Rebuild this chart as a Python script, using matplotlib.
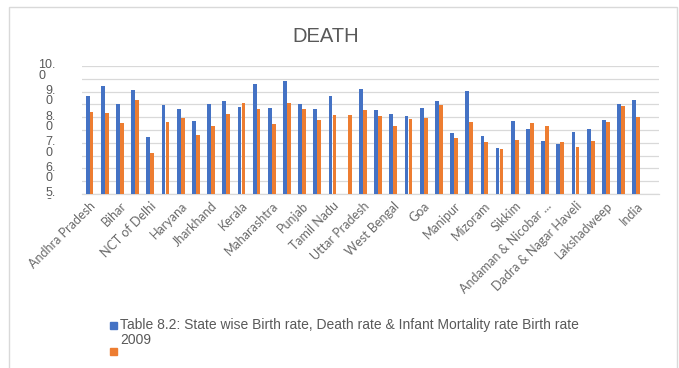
import matplotlib
matplotlib.use("Agg")
import matplotlib.pyplot as plt
import matplotlib.transforms as mtransforms
from matplotlib.patches import Rectangle
import numpy as np

# Categories (states / UTs); only every other one gets a visible tick label
categories = [
    "Andhra Pradesh", "Assam", "Bihar", "Chhattisgarh", "NCT of Delhi",
    "Gujarat", "Haryana", "Jammu & Kashmir", "Jharkhand", "Karnataka",
    "Kerala", "Madhya Pradesh", "Maharashtra", "Odisha", "Punjab",
    "Rajasthan", "Tamil Nadu", "Uttarakhand", "Uttar Pradesh",
    "Himachal Pradesh", "West Bengal", "Arunachal Pradesh", "Goa",
    "Meghalaya", "Manipur", "Nagaland", "Mizoram", "Tripura", "Sikkim",
    "Puducherry", "Andaman & Nicobar ...", "Chandigarh",
    "Dadra & Nagar Haveli", "Daman & Diu", "Lakshadweep", "Delhi UT",
    "India",
]

birth_rate = [
    8.83, 9.22, 8.53, 9.07, 7.21, 8.46, 8.31, 7.86, 8.53, 8.62,
    8.41, 9.28, 8.37, 9.41, 8.53, 8.31, 8.81, np.nan, 9.11, 8.27,
    8.13, 8.06, 8.37, 8.62, 7.37, 9.04, 7.27, 6.81, 7.86, 7.55,
    7.06, 6.97, 7.42, 7.55, 7.90, 8.53, 8.66,
]
death_rate = [
    8.21, 8.18, 7.79, 8.67, 6.60, 7.81, 7.97, 7.30, 7.67, 8.13,
    8.57, 8.31, 7.72, 8.57, 8.31, 7.88, 8.07, 8.07, 8.28, 8.03,
    7.67, 7.92, 7.98, 8.46, 7.17, 7.80, 7.02, 6.76, 7.11, 7.77,
    7.67, 7.02, 6.85, 7.07, 7.82, 8.43, 8.02,
]

y_ticks = [5, 6, 7, 8, 9, 10]
y_tick_labels = ["5.\n0", "6.\n0", "7.\n0", "8.\n0", "9.\n0", "10.\n0"]

series_labels = [
    "Table 8.2: State wise Birth rate, Death rate & Infant Mortality rate Birth rate\n2009",
    "",
]

BLUE = "#4472C4"
ORANGE = "#ED7D31"
GRID = "#D9D9D9"
TEXT = "#595959"

W, H = 679, 368
fig = plt.figure(figsize=(W / 100, H / 100), dpi=100)
fig.patch.set_facecolor("white")

# chart-area border
fig.patches.append(Rectangle((9 / W, -0.05), 668 / W, 1.05 - 7.5 / H,
                             transform=fig.transFigure, fill=False,
                             edgecolor=GRID, linewidth=1.0))

ax = fig.add_axes([82 / W, (H - 194) / H, (659 - 82) / W, (194 - 66) / H])

x = np.arange(len(categories))
bw = 0.25
ax.bar(x - 0.13, birth_rate, width=bw, color=BLUE, zorder=3)
ax.bar(x + 0.13, death_rate, width=bw, color=ORANGE, zorder=3)

ax.set_xlim(-0.5, len(categories) + 0.5)
ax.set_ylim(5, 10)

# gridlines every 0.5, labels every 1.0
ax.set_yticks(np.arange(5, 10.01, 0.5), minor=True)
ax.set_yticks(y_ticks)
ax.set_yticklabels(y_tick_labels, fontsize=9, color=TEXT,
                   family="Liberation Sans", linespacing=0.82,
                   ha="right", multialignment="left")
ax.grid(axis="y", which="both", color=GRID, linewidth=0.9, zorder=0)
ax.tick_params(axis="y", which="both", length=0, pad=19)
offset = mtransforms.ScaledTranslation(0, -4 / 100, fig.dpi_scale_trans)
for lab in ax.get_yticklabels():
    lab.set_transform(lab.get_transform() + offset)

ax.set_xticks(x[::2])
ax.set_xticklabels(categories[::2], rotation=45, ha="right",
                   rotation_mode="anchor", fontsize=9, color="#6a6a6a",
                   family="Lato")
ax.tick_params(axis="x", length=0, pad=4)

for side in ("left", "right", "top"):
    ax.spines[side].set_visible(False)
ax.spines["bottom"].set_color(GRID)
ax.spines["bottom"].set_linewidth(0.9)

# clip the lowest y label at the bottom of the axis band
bottom_clip = mtransforms.Bbox.from_extents(0, H - 199, W, H)
ax.get_yticklabels()[0].set_clip_box(bottom_clip)
ax.get_yticklabels()[0].set_clip_on(True)

fig.text(326 / W, 1 - 36 / H, "DEATH", ha="center", va="center",
         fontsize=14.5, color=TEXT, family="Liberation Sans")

# legend: swatch aligned with the first text line of each entry
legend_rows = [(BLUE, series_labels[0], 322), (ORANGE, series_labels[1], 348)]
for color, text, ytop in legend_rows:
    fig.patches.append(Rectangle((110 / W, 1 - (ytop + 7) / H), 7 / W, 7 / H,
                                 transform=fig.transFigure, color=color))
    fig.text(120 / W, 1 - (ytop - 4) / H, text, ha="left", va="top",
             fontsize=10, color=TEXT, family="Liberation Sans",
             linespacing=1.08)

fig.savefig("out.png", dpi=100, facecolor="white")
